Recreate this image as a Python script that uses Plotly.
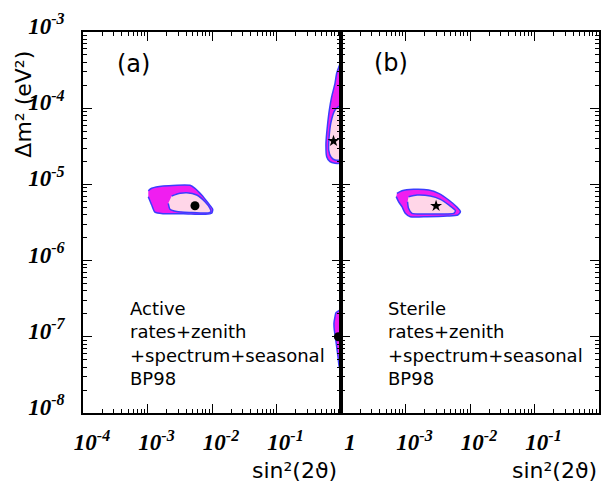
import numpy as np
import plotly.graph_objects as go

# ---------------- data (log10 values) ----------------
# Panel (a): Active
a_lma_out_x = [-2.988, -2.935, -2.755, -2.341, -2.264, -2.160, -2.057, -1.989, -2.005, -2.109, -2.445, -2.755, -2.884, -2.935, -2.988]
a_lma_out_y = [-5.083, -5.051, -5.021, -5.012, -5.051, -5.139, -5.248, -5.327, -5.379, -5.392, -5.385, -5.385, -5.365, -5.270, -5.161]
a_lma_in_x = [-2.625, -2.496, -2.392, -2.237, -2.109, -2.031, -2.016, -2.057, -2.341, -2.547, -2.651, -2.678]
a_lma_in_y = [-5.152, -5.117, -5.109, -5.139, -5.227, -5.314, -5.358, -5.375, -5.368, -5.355, -5.325, -5.248]

a_low_out_x = [0.0, -0.030, -0.067, -0.093, -0.144, -0.181, -0.212, -0.233, -0.222, -0.171, -0.093, 0.0]
a_low_out_y = [-3.390, -3.450, -3.542, -3.673, -3.849, -4.024, -4.243, -4.461, -4.636, -4.702, -4.723, -4.723]
a_low_in_x = [-0.023, -0.093, -0.155, -0.186, -0.191, -0.155, -0.093, 0.0]
a_low_in_y = [-3.971, -4.024, -4.181, -4.391, -4.549, -4.640, -4.680, -4.680]

a_vac_out_x = [0.0, -0.078, -0.093, -0.109, -0.104, -0.088, -0.067, -0.047, -0.026, 0.0]
a_vac_out_y = [-6.639, -6.684, -6.736, -6.823, -6.911, -6.999, -7.130, -7.261, -7.392, -7.413]

a_best_dot = (-2.264, -5.28)
a_best_star = (-0.116, -4.430)
a_best_dot2 = (-0.04, -7.00)

# Panel (b): Sterile
b_out_x = [-3.133, -3.055, -2.875, -2.641, -2.486, -2.330, -2.199, -2.148, -2.190, -2.355, -2.666, -2.926, -3.004, -3.055, -3.108, -3.144]
b_out_y = [-5.117, -5.083, -5.064, -5.073, -5.117, -5.205, -5.301, -5.358, -5.402, -5.415, -5.424, -5.424, -5.379, -5.293, -5.227, -5.161]
b_in_x = [-2.953, -2.822, -2.615, -2.459, -2.330, -2.226, -2.252, -2.433, -2.719, -2.900, -2.953, -2.968]
b_in_y = [-5.161, -5.139, -5.152, -5.196, -5.270, -5.345, -5.379, -5.388, -5.388, -5.379, -5.314, -5.227]
b_best_star = (-2.526, -5.283)

# ticks
x_tickvals = [1e-4, 1e-3, 1e-2, 1e-1, 1]
x_ticktext_a = ["10<sup>-4</sup>", "10<sup>-3</sup>", "10<sup>-2</sup>", "10<sup>-1</sup>", "1"]
x_ticktext_b = ["", "10<sup>-3</sup>", "10<sup>-2</sup>", "10<sup>-1</sup>", "1"]
y_tickvals = [1e-8, 1e-7, 1e-6, 1e-5, 1e-4, 1e-3]
y_ticktext = ["10<sup>-8</sup>", "10<sup>-7</sup>", "10<sup>-6</sup>", "10<sup>-5</sup>", "10<sup>-4</sup>", "10<sup>-3</sup>"]

text_a = "Active<br>rates+zenith<br>+spectrum+seasonal<br>BP98"
text_b = "Sterile<br>rates+zenith<br>+spectrum+seasonal<br>BP98"

# ---------------- styles ----------------
MAG = "rgb(240,30,240)"
PINK = "rgb(255,214,232)"
BLUE = "rgb(60,60,255)"

def p(v):
    return list(10 ** np.array(v))

fig = go.Figure()

def region(xs, ys, fill, xa, ya):
    fig.add_trace(go.Scatter(x=p(xs), y=p(ys), mode="lines", fill="toself",
                             fillcolor=fill, line=dict(color=BLUE, width=1.5, shape="spline", smoothing=0.6),
                             xaxis=xa, yaxis=ya, showlegend=False, hoverinfo="skip"))

region(a_lma_out_x, a_lma_out_y, MAG, "x", "y")
region(a_lma_in_x, a_lma_in_y, PINK, "x", "y")
region(a_low_out_x, a_low_out_y, MAG, "x", "y")
region(a_low_in_x, a_low_in_y, PINK, "x", "y")
region(a_vac_out_x, a_vac_out_y, MAG, "x", "y")
region(b_out_x, b_out_y, MAG, "x2", "y2")
region(b_in_x, b_in_y, PINK, "x2", "y2")

def marker(pt, sym, size, xa, ya):
    fig.add_trace(go.Scatter(x=[10 ** pt[0]], y=[10 ** pt[1]], mode="markers",
                             marker=dict(symbol=sym, size=size, color="black"),
                             xaxis=xa, yaxis=ya, showlegend=False, hoverinfo="skip"))

marker(a_best_dot, "circle", 9, "x", "y")
marker(a_best_star, "star", 9, "x", "y")
marker(a_best_dot2, "circle", 9, "x", "y")
marker(b_best_star, "star", 9, "x2", "y2")

minor_x = [m * 10.0 ** k for k in range(-4, 0) for m in range(2, 10)]
minor_y = [m * 10.0 ** k for k in range(-8, -3) for m in range(2, 10)]

tickfont = dict(family="Liberation Serif", size=23, color="black", weight="bold", style="italic")

def xaxis(domain, anchor, ticktext):
    return dict(type="log", range=[-4, 0], domain=domain, anchor=anchor, automargin=False,
                showline=True, linecolor="black", linewidth=1.5, mirror="ticks",
                ticks="inside", ticklen=9, tickwidth=1.2, tickcolor="black",
                tickmode="array", tickvals=x_tickvals, ticktext=ticktext,
                tickfont=tickfont, ticklabelshift=9, ticklabelstandoff=8,
                ticklabeloverflow="allow",
                minor=dict(ticks="inside", ticklen=4, tickwidth=1, tickcolor="black",
                           tickmode="array", tickvals=minor_x, showgrid=False),
                showgrid=False, zeroline=False)

def yaxis(anchor, labels, matches=None):
    d = dict(type="log", range=[-8, -3], domain=[0, 1], anchor=anchor, automargin=False,
             showline=True, linecolor="black", linewidth=1.5, mirror="ticks",
             ticks="inside", ticklen=9, tickwidth=1.2, tickcolor="black",
             tickmode="array", tickvals=y_tickvals, ticktext=y_ticktext,
             tickfont=tickfont, showticklabels=labels, ticklabelshift=-6, ticklabelstandoff=12,
             ticklabeloverflow="allow",
             minor=dict(ticks="inside", ticklen=4, tickwidth=1, tickcolor="black",
                        tickmode="array", tickvals=minor_y, showgrid=False),
             showgrid=False, zeroline=False)
    if matches:
        d["matches"] = matches
    return d

# the page body has an 8px default margin, so the figure is 8px smaller and offset
fig.update_layout(
    width=602, height=480, autosize=False,
    margin=dict(l=75, r=11, t=24, b=75, pad=0),
    paper_bgcolor="white", plot_bgcolor="white",
    xaxis=xaxis([0, 0.5], "y", x_ticktext_a),
    xaxis2=xaxis([0.5, 1], "y2", x_ticktext_b),
    yaxis=yaxis("x", True),
    yaxis2=yaxis("x2", False, "y"),
)

sans = "DejaVu Sans"
ann = [
    dict(text="Δm² (eV²)", x=-0.117, y=0.811, textangle=-90, font=dict(family=sans, size=22)),
    dict(text="sin²(2ϑ)", x=0.410, y=-0.150, font=dict(family=sans, size=22)),
    dict(text="sin²(2ϑ)", x=0.913, y=-0.150, font=dict(family=sans, size=22)),
    dict(text="(a)", x=0.097, y=0.916, font=dict(family=sans, size=24)),
    dict(text="(b)", x=0.596, y=0.919, font=dict(family=sans, size=24)),
    dict(text=text_a, x=0.087, y=0.307, xanchor="left", yanchor="top", align="left",
         font=dict(family=sans, size=18)),
    dict(text=text_b, x=0.588, y=0.307, xanchor="left", yanchor="top", align="left",
         font=dict(family=sans, size=18)),
]
for a in ann:
    a.setdefault("xanchor", "center")
    a.setdefault("yanchor", "middle")
    a["font"]["color"] = "black"
    fig.add_annotation(xref="paper", yref="paper", showarrow=False, **a)

fig.write_html("out.html")
